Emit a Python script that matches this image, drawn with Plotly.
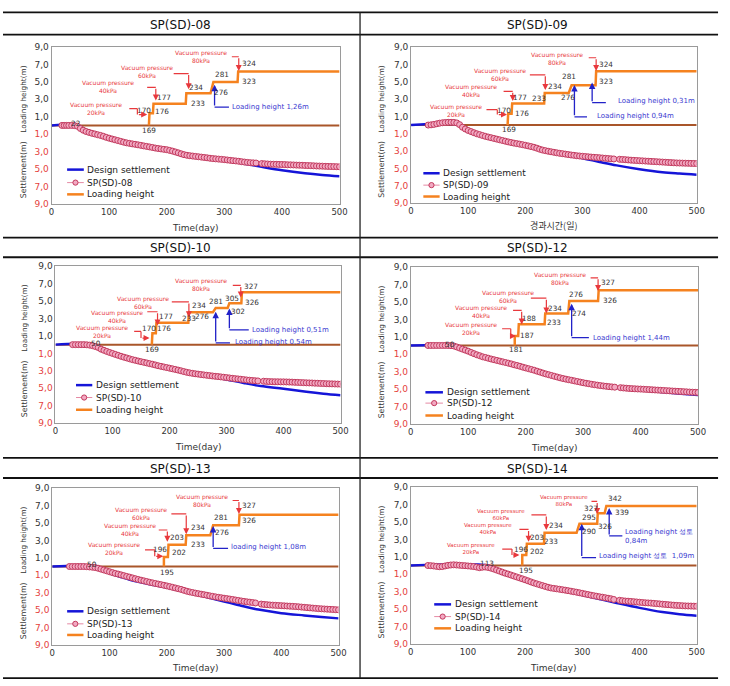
import plotly.graph_objects as go

W, H = 730, 686
FONT = "DejaVu Sans"

# ---------------- data ----------------
DAYS = list(range(30, 505, 5))  # measurement days (every 5 days)

SP08_DAYS = [18, 22, 26] + DAYS
SP08_SETTLE = [0.0, 0.0, 0.0,
    0.0, 0.0, -0.02, -0.1, -0.35, -0.55, -0.7, -0.8, -0.9, -0.98,
    -1.07, -1.15, -1.25, -1.37, -1.47, -1.56, -1.65, -1.74, -1.83, -1.92,
    -2.0, -2.06, -2.12, -2.17, -2.23, -2.29, -2.35, -2.41, -2.47, -2.53,
    -2.6, -2.65, -2.7, -2.75, -2.79, -2.87, -2.95, -3.05, -3.15, -3.26,
    -3.36, -3.43, -3.48, -3.52, -3.56, -3.6, -3.64, -3.68, -3.72, -3.77,
    -3.81, -3.84, -3.87, -3.9, -3.93, -3.97, -4.01, -4.05, -4.08, -4.12,
    -4.17, -4.21, -4.25, -4.28, -4.3, -4.32, None, -4.38, -4.41, -4.43,
    -4.45, -4.46, -4.47, -4.48, -4.49, -4.5, -4.52, -4.53, -4.54, -4.56,
    -4.57, -4.58, -4.6, -4.61, -4.62, -4.64, -4.66, -4.67, -4.68, -4.7,
    -4.71, -4.72, -4.73, -4.74, -4.75]
SP08_DESIGN_DAYS = [0, 45, 60, 80, 100, 130, 160, 200, 230, 260, 300, 330, 360, 400, 440, 470, 500]
SP08_DESIGN = [0, 0, -0.55, -1.0, -1.45, -1.95, -2.35, -2.8, -3.3, -3.65, -4.0, -4.35, -4.7, -5.15, -5.5, -5.7, -5.85]
SP08_LOAD_DAYS = [169, 169, 170, 170, 176, 177, 233, 234, 276, 281, 323, 324, 500]
SP08_LOAD = [0, 1.1, 1.1, 1.4, 1.4, 2.5, 2.5, 3.7, 3.7, 5.0, 5.0, 6.2, 6.2]

SP09_DAYS = DAYS
SP09_SETTLE = [
    0.0, 0.03, 0.08, 0.15, 0.22, 0.27, 0.3, 0.32, 0.32, 0.31,
    0.25, 0.05, -0.25, -0.45, -0.62, -0.75, -0.88, -1.0, -1.1, -1.2,
    -1.3, -1.38, -1.46, -1.54, -1.62, -1.7, -1.78, -1.86, -1.94, -2.01,
    -2.08, -2.14, -2.2, -2.26, -2.33, -2.4, -2.48, -2.56, -2.66, -2.78,
    -2.88, -2.95, -3.02, -3.08, -3.14, -3.2, -3.26, -3.3, -3.35, -3.4,
    -3.45, -3.49, -3.54, -3.57, -3.6, -3.63, -3.66, -3.69, -3.72, -3.74,
    -3.77, -3.8, -3.83, -3.86, -3.89, -3.91, None, -3.95, -3.97, -3.99,
    -4.02, -4.05, -4.07, -4.09, -4.11, -4.13, -4.15, -4.17, -4.19, -4.21,
    -4.23, -4.25, -4.27, -4.29, -4.31, -4.33, -4.35, -4.37, -4.38, -4.39,
    -4.4, -4.41, -4.42, -4.43, -4.44]
SP09_DESIGN_DAYS = [0, 85, 100, 130, 160, 200, 230, 260, 300, 330, 360, 400, 440, 470, 500]
SP09_DESIGN = [0, 0, -0.6, -1.3, -1.85, -2.4, -2.9, -3.35, -3.83, -4.25, -4.65, -5.1, -5.45, -5.6, -5.72]
SP09_LOAD_DAYS = [169, 169, 170, 170, 176, 177, 233, 234, 276, 281, 323, 324, 500]
SP09_LOAD = [0, 1.1, 1.1, 1.3, 1.3, 2.5, 2.5, 3.7, 3.7, 4.6, 4.6, 6.2, 6.2]

SP10_DAYS = DAYS
SP10_SETTLE = [
    0.0, 0.0, 0.0, 0.0, 0.0, -0.02, -0.06, -0.12, -0.22, -0.33,
    -0.52, -0.65, -0.78, -0.9, -1.01, -1.12, -1.23, -1.34, -1.44, -1.53,
    -1.63, -1.72, -1.8, -1.88, -1.96, -2.03, -2.1, -2.18, -2.25, -2.33,
    -2.42, -2.49, -2.56, -2.63, -2.7, -2.77, -2.84, -2.92, -3.0, -3.09,
    -3.17, -3.23, -3.29, -3.34, -3.38, -3.43, -3.47, -3.51, -3.55, -3.59,
    -3.63, -3.66, -3.7, -3.74, -3.78, -3.82, -3.86, -3.9, -3.93, -3.97,
    -4.01, -4.05, -4.08, -4.11, -4.14, -4.16, None, -4.2, -4.22, -4.24,
    -4.25, -4.26, -4.26, -4.27, -4.27, -4.28, -4.29, -4.3, -4.32, -4.33,
    -4.35, -4.36, -4.38, -4.39, -4.4, -4.42, -4.43, -4.45, -4.46, -4.48,
    -4.49, -4.5, -4.51, -4.52, -4.53]
SP10_DESIGN_DAYS = [0, 60, 80, 100, 130, 160, 200, 230, 260, 300, 330, 360, 400, 440, 470, 500]
SP10_DESIGN = [0, 0, -0.5, -1.0, -1.63, -2.15, -2.74, -3.15, -3.5, -4.0, -4.4, -4.75, -5.06, -5.4, -5.62, -5.8]
SP10_LOAD_DAYS = [169, 169, 170, 170, 176, 177, 233, 234, 276, 281, 302, 305, 326, 327, 500]
SP10_LOAD = [0, 1.0, 1.0, 1.3, 1.3, 2.5, 2.5, 3.7, 3.7, 4.2, 4.2, 4.75, 4.75, 6.0, 6.0]

SP12_DAYS = DAYS
SP12_SETTLE = [
    0.0, 0.0, 0.0, 0.0, 0.0, 0.0, 0.0, 0.0, -0.02, -0.06,
    -0.17, -0.3, -0.42, -0.54, -0.66, -0.8, -0.94, -1.07, -1.18, -1.3,
    -1.38, -1.47, -1.56, -1.64, -1.72, -1.8, -1.88, -1.96, -2.04, -2.12,
    -2.22, -2.3, -2.39, -2.49, -2.58, -2.67, -2.76, -2.85, -2.96, -3.06,
    -3.17, -3.27, -3.36, -3.45, -3.54, -3.63, -3.72, -3.8, -3.87, -3.94,
    -4.0, -4.07, -4.14, -4.21, -4.28, -4.34, -4.4, -4.46, -4.51, -4.56,
    -4.61, -4.65, -4.69, -4.73, -4.76, -4.79, None, -4.85, -4.88, -4.91,
    -4.94, -4.96, -4.98, -5.0, -5.01, -5.03, -5.05, -5.07, -5.09, -5.11,
    -5.13, -5.15, -5.17, -5.19, -5.21, -5.23, -5.25, -5.27, -5.29, -5.31,
    -5.33, -5.35, -5.37, -5.38, -5.4]
SP12_DESIGN_DAYS = [0, 70, 80, 100, 130, 160, 200, 230, 260, 300, 330, 360, 400, 440, 470, 500]
SP12_DESIGN = [0, 0, -0.2, -0.62, -1.4, -1.98, -2.65, -3.15, -3.78, -4.35, -4.65, -4.88, -5.13, -5.38, -5.55, -5.7]
SP12_LOAD_DAYS = [181, 181, 187, 188, 233, 234, 274, 276, 326, 327, 500]
SP12_LOAD = [0, 1.1, 1.1, 2.45, 2.45, 3.68, 3.68, 5.12, 5.12, 6.35, 6.35]

SP13_DAYS = DAYS
SP13_SETTLE = [
    0.0, 0.0, 0.0, 0.0, 0.0, 0.0, -0.02, -0.05, -0.08, -0.12,
    -0.2, -0.3, -0.4, -0.5, -0.6, -0.7, -0.8, -0.87, -0.96, -1.05,
    -1.14, -1.22, -1.31, -1.4, -1.49, -1.57, -1.65, -1.73, -1.81, -1.88,
    -1.95, -2.02, -2.09, -2.16, -2.23, -2.31, -2.39, -2.47, -2.55, -2.63,
    -2.74, -2.84, -2.92, -2.99, -3.06, -3.12, -3.18, -3.24, -3.3, -3.37,
    -3.43, -3.49, -3.54, -3.59, -3.64, -3.69, -3.74, -3.79, -3.85, -3.9,
    -3.96, -4.01, -4.06, -4.1, -4.14, -4.19, None, -4.32, -4.36, -4.39,
    -4.42, -4.44, -4.46, -4.48, -4.5, -4.52, -4.54, -4.56, -4.58, -4.6,
    -4.63, -4.66, -4.69, -4.72, -4.75, -4.78, -4.81, -4.84, -4.86, -4.88,
    -4.9, -4.92, -4.94, -4.96, -4.98]
SP13_DESIGN_DAYS = [0, 70, 85, 100, 120, 150, 200, 250, 300, 330, 360, 400, 440, 470, 500]
SP13_DESIGN = [0, 0, -0.35, -0.75, -1.2, -1.77, -2.42, -3.2, -4.04, -4.5, -4.95, -5.36, -5.62, -5.8, -5.96]
SP13_LOAD_DAYS = [195, 195, 202, 203, 233, 234, 276, 281, 326, 327, 500]
SP13_LOAD = [0, 1.1, 1.1, 2.5, 2.5, 3.6, 3.6, 4.75, 4.75, 5.95, 5.95]

SP14_DAYS = DAYS
SP14_SETTLE = [
    0.0, -0.02, -0.05, -0.1, -0.14, -0.12, -0.05, 0.02, 0.06, 0.08,
    0.06, 0.03, 0.0, -0.02, -0.05, -0.08, -0.12, -0.18, -0.25, -0.2,
    -0.17, -0.22, -0.3, -0.4, -0.52, -0.64, -0.76, -0.88, -0.98, -1.09,
    -1.2, -1.31, -1.42, -1.53, -1.64, -1.76, -1.88, -2.0, -2.1, -2.2,
    -2.3, -2.4, -2.5, -2.58, -2.63, -2.68, -2.73, -2.78, -2.83, -2.89,
    -2.95, -3.01, -3.07, -3.13, -3.2, -3.27, -3.34, -3.41, -3.47, -3.53,
    -3.59, -3.64, -3.7, -3.76, -3.82, -3.9, None, -4.0, -4.04, -4.08,
    -4.1, -4.13, -4.16, -4.19, -4.22, -4.25, -4.28, -4.3, -4.32, -4.35,
    -4.38, -4.41, -4.44, -4.47, -4.5, -4.53, -4.56, -4.58, -4.6, -4.62,
    -4.64, -4.65, -4.66, -4.67, -4.68]
SP14_DESIGN_DAYS = [0, 135, 150, 175, 200, 230, 260, 300, 330, 360, 400, 440, 470, 500]
SP14_DESIGN = [0, 0, -0.45, -1.05, -1.62, -2.3, -2.78, -3.4, -3.85, -4.3, -4.87, -5.35, -5.6, -5.77]
SP14_LOAD_DAYS = [195, 195, 202, 203, 233, 234, 290, 295, 326, 327, 339, 342, 500]
SP14_LOAD = [0, 1.2, 1.2, 2.5, 2.5, 3.75, 3.75, 4.8, 4.8, 6.0, 6.0, 6.85, 6.85]

BASE_DAYS = [0, 500]
BASE = [0, 0]

NAMES = ["SP(SD)-08", "SP(SD)-09", "SP(SD)-10", "SP(SD)-12", "SP(SD)-13", "SP(SD)-14"]
X_TITLES = ["Time(day)", "경과시간(일)", "Time(day)", "Time(day)", "Time(day)", "Time(day)"]
X_TICKS = [0, 100, 200, 300, 400, 500]
Y_TICKS = [9, 7, 5, 3, 1, -1, -3, -5, -7, -9]
Y_TICK_TEXT = ["9,0", "7,0", "5,0", "3,0", "1,0", "1,0", "3,0", "5,0", "7,0", "9,0"]

# ---------------- annotation specs (data coordinates) ----------------
VAC = [
    [("20kPa", 77, 1.96), ("40kPa", 98, 4.42), ("60kPa", 166, 6.23), ("80kPa", 260, 7.96)],
    [("20kPa", 78, 1.7), ("40kPa", 105, 4.0), ("60kPa", 156, 5.83), ("80kPa", 255, 7.69)],
    [("20kPa", 82, 1.45), ("40kPa", 108, 3.2), ("60kPa", 153, 4.8), ("80kPa", 256, 6.87)],
    [("20kPa", 105, 1.94), ("40kPa", 123, 3.89), ("60kPa", 170, 5.58), ("80kPa", 259, 7.7)],
    [("20kPa", 108, 2.04), ("40kPa", 135, 4.23), ("60kPa", 155, 6.08), ("80kPa", 261, 7.62)],
    [("20kPa", 106, 2.0), ("40kPa", 135, 4.2), ("60kPa", 158, 5.85), ("80kPa", 268, 7.47)],
]
VAC_SIZE = [6, 6, 6, 6, 6, 5.5]
RED_ARROWS = [
    [[(135, 1.92), (149, 1.92), (149, 1.25), (166, 1.25)], [(166, 4.38), (181, 4.38), (181, 2.87)],
     [(212, 5.96), (238, 5.96), (238, 4.15)], [(313, 7.89), (325, 7.89), (325, 6.26)]],
    [[(132, 1.78), (151, 1.78), (151, 1.21), (168, 1.21)], [(162, 3.9), (178, 3.9), (178, 2.77)],
     [(208, 5.8), (235, 5.8), (235, 4.05)], [(311, 7.77), (324, 7.77), (324, 6.25)]],
    [[(138, 1.51), (150, 1.51), (150, 0.75), (165, 0.75)], [(161, 3.77), (179, 3.77), (179, 2.19)],
     [(204, 4.9), (234, 4.9), (234, 3.13)], [(311, 6.79), (325, 6.79), (325, 5.4)]],
    [[(159, 1.92), (174, 1.92), (174, 1.09), (183, 1.09)], [(178, 4.04), (193, 4.04), (193, 2.42)],
     [(209, 5.43), (236, 5.43), (236, 3.66)], [(313, 7.77), (326, 7.77), (326, 6.26)]],
    [[(162, 1.92), (179, 1.92), (179, 1.17), (194, 1.17)], [(186, 4.19), (201, 4.19), (201, 2.83)],
     [(208, 6.04), (234, 6.04), (234, 3.7)], [(315, 7.58), (326, 7.58), (326, 6.04)]],
    [[(160, 1.89), (177, 1.89), (177, 1.21), (190, 1.21)], [(190, 4.15), (206, 4.15), (206, 2.72)],
     [(211, 5.81), (237, 5.81), (237, 4.08)], [(316, 7.36), (326, 7.36), (326, 5.92)]],
]
NUMS = [
    [("170", 161, 1.74), ("177", 195, 3.25), ("176", 191, 1.62), ("169", 170, -0.64), ("234", 251, 4.38),
     ("233", 254, 2.57), ("281", 296, 5.81), ("276", 295, 3.81), ("324", 342, 7.09), ("323", 343, 5.06), ("22", 41, 0.23)],
    [("170", 162, 1.7), ("177", 191, 3.14), ("176", 194, 1.33), ("169", 172, -0.49), ("234", 252, 4.43),
     ("233", 224, 3.03), ("281", 277, 5.57), ("276", 274, 3.14), ("324", 341, 7.0), ("323", 341, 5.04)],
    [("170", 164, 1.89), ("176", 191, 1.81), ("177", 194, 3.25), ("169", 170, -0.53), ("234", 251, 4.45),
     ("233", 235, 2.94), ("276", 257, 3.17), ("281", 282, 4.91), ("305", 309, 5.28), ("302", 321, 3.77),
     ("327", 343, 6.72), ("326", 344, 4.83), ("50", 71, 0.12)],
    [("188", 205, 3.09), ("187", 202, 1.17), ("181", 183, -0.49), ("234", 251, 4.23), ("233", 249, 2.6),
     ("276", 287, 5.81), ("274", 293, 3.66), ("327", 343, 7.21), ("326", 347, 5.17), ("50", 69, 0.15)],
    [("196", 188, 1.92), ("203", 218, 3.32), ("202", 221, 1.62), ("195", 201, -0.72), ("234", 255, 4.45),
     ("233", 255, 2.57), ("281", 295, 5.58), ("276", 296, 3.89), ("327", 343, 6.98), ("326", 343, 5.28), ("50", 70, 0.19)],
    [("196", 192, 1.89), ("203", 220, 3.21), ("202", 220, 1.62), ("195", 201, -0.57), ("234", 254, 4.6),
     ("233", 246, 2.72), ("295", 312, 5.55), ("290", 312, 3.85), ("327", 316, 6.53), ("326", 339, 4.45),
     ("342", 358, 7.74), ("339", 369, 6.11), ("113", 134, 0.19)],
]
BLUE_TEXT = [
    [("Loading height 1,26m", 309, 2.11)],
    [("Loading height 0,94m", 322, 1.1), ("Loading height 0,31m", 359, 2.73)],
    [("Loading height 0,51m", 341, 1.7), ("Loading height 0,54m", 311, 0.3)],
    [("Loading height 1,44m", 313, 0.9)],
    [("loading height 1,08m", 308, 2.19)],
    [("Loading height 성토<br>0,84m", 372, 3.36), ("Loading height 성토  1,09m", 326, 1.06)],
]
BLUE_ARROWS = [
    [[(308, 2.11), (283, 2.11), (283, 4.68)]],
    [[(308, 0.95), (286, 0.95), (286, 4.62)], [(341, 2.58), (317, 2.58), (317, 4.92)]],
    [[(339, 1.7), (305, 1.7), (305, 4.15)], [(306, 0.19), (281, 0.19), (281, 3.77)]],
    [[(310, 0.9), (280, 0.9), (280, 4.8)]],
    [[(307, 2.08), (281, 2.08), (281, 4.64)]],
    [[(370, 3.4), (347, 3.4), (347, 6.6)], [(324, 0.91), (299, 0.91), (299, 4.79)]],
]

# ---------------- layout geometry (pixels) ----------------
BOXES = [(49.3, 42.7, 341.7, 201.7), (414.3, 42.7, 704.3, 201.0), (53.3, 265.0, 342.7, 424.3),
         (414.0, 266.0, 705.7, 425.0), (50.0, 490.3, 340.7, 649.3), (414.0, 489.3, 704.3, 648.3)]
TITLE_POS = [(180, 20), (543, 20), (180, 247), (543, 247), (180, 471), (543, 471)]
XT_Y = [226, 224, 449, 450, 673, 673]
YT_X = [20.7, 384.3, 21.5, 384.3, 20.7, 384.3]
LEG = [(0.054, 0.112, 0.116, [0.218, 0.135, 0.06]),
       (0.043, 0.100, 0.104, [0.191, 0.115, 0.042]),
       (0.072, 0.129, 0.135, [0.242, 0.163, 0.085]),
       (0.051, 0.112, 0.118, [0.201, 0.132, 0.053]),
       (0.052, 0.109, 0.115, [0.214, 0.134, 0.063]),
       (0.082, 0.141, 0.147, [0.252, 0.174, 0.099])]

SERIES = [
    (SP08_DAYS, SP08_SETTLE, SP08_DESIGN_DAYS, SP08_DESIGN, SP08_LOAD_DAYS, SP08_LOAD),
    (SP09_DAYS, SP09_SETTLE, SP09_DESIGN_DAYS, SP09_DESIGN, SP09_LOAD_DAYS, SP09_LOAD),
    (SP10_DAYS, SP10_SETTLE, SP10_DESIGN_DAYS, SP10_DESIGN, SP10_LOAD_DAYS, SP10_LOAD),
    (SP12_DAYS, SP12_SETTLE, SP12_DESIGN_DAYS, SP12_DESIGN, SP12_LOAD_DAYS, SP12_LOAD),
    (SP13_DAYS, SP13_SETTLE, SP13_DESIGN_DAYS, SP13_DESIGN, SP13_LOAD_DAYS, SP13_LOAD),
    (SP14_DAYS, SP14_SETTLE, SP14_DESIGN_DAYS, SP14_DESIGN, SP14_LOAD_DAYS, SP14_LOAD),
]

C_ORANGE = "#f5821f"
C_BLUE = "#1515d8"
C_BROWN = "#a9562a"
C_MFILL = "#f2a9c2"
C_MEDGE = "#c23a5e"
C_MLINE = "#e58aa4"
C_RED = "#e8383c"
C_BLUE_TXT = "#3a3ad0"
C_NUM = "#333333"

RED_TICK = '<span style="color:#e5413c">%s</span>'


def px(x):
    return x / W


def py(y):
    return 1 - y / H


fig = go.Figure()
shapes = []
annotations = []

for i in range(6):
    sfx = "" if i == 0 else str(i + 1)
    xr, yr = "x" + sfx, "y" + sfx
    x0, y0, x1, y1 = BOXES[i]
    mdays, msettle, ddays, dval, ldays, lval = SERIES[i]

    fig.add_trace(go.Scatter(x=BASE_DAYS, y=BASE, mode="lines", line=dict(color=C_BROWN, width=2),
                             xaxis=xr, yaxis=yr, showlegend=False, hoverinfo="skip"))
    fig.add_trace(go.Scatter(x=ldays, y=lval, mode="lines", line=dict(color=C_ORANGE, width=2.5),
                             xaxis=xr, yaxis=yr, showlegend=False, name="Loading height"))
    fig.add_trace(go.Scatter(x=ddays, y=dval, mode="lines", line=dict(color=C_BLUE, width=2.5, shape="spline"),
                             xaxis=xr, yaxis=yr, showlegend=False, name="Design settlement"))
    fig.add_trace(go.Scatter(x=mdays, y=msettle, mode="lines+markers",
                             line=dict(color=C_MLINE, width=1),
                             marker=dict(symbol="circle", size=6, color=C_MFILL,
                                         line=dict(color=C_MEDGE, width=1)),
                             xaxis=xr, yaxis=yr, showlegend=False, name=NAMES[i]))

    ticktext = [t if v > 0 else RED_TICK % t for t, v in zip(Y_TICK_TEXT, Y_TICKS)]
    fig.layout["xaxis" + sfx] = dict(
        domain=[px(x0), px(x1)], range=[0, 500], anchor=yr, tickvals=X_TICKS, ticks="",
        showline=True, mirror=True, linecolor="#9a9a9a", linewidth=1, showgrid=False, zeroline=False,
        tickfont=dict(family=FONT, size=8.5, color="#333"), fixedrange=True)
    fig.layout["yaxis" + sfx] = dict(
        domain=[py(y1), py(y0)], range=[-9, 9], anchor=xr, tickvals=Y_TICKS, ticktext=ticktext,
        ticks="", showline=True, mirror=True, linecolor="#9a9a9a", linewidth=1, showgrid=False,
        zeroline=False, tickfont=dict(family=FONT, size=9, color="#333"), fixedrange=True)

    # panel title
    tx, ty = TITLE_POS[i]
    annotations.append(dict(text=NAMES[i], x=px(tx), y=py(ty), xref="paper", yref="paper",
                            showarrow=False, font=dict(family=FONT, size=12, color="#111"),
                            xanchor="center", yanchor="middle"))
    # x title
    xfont = "Noto Sans CJK KR" if i == 1 else FONT
    annotations.append(dict(text=X_TITLES[i], x=px((x0 + x1) / 2), y=py(XT_Y[i]), xref="paper", yref="paper",
                            showarrow=False, font=dict(family=xfont, size=9, color="#333"),
                            xanchor="center", yanchor="middle"))
    # y titles
    annotations.append(dict(text="Loading height(m)", x=px(YT_X[i]), y=3.0, xref="paper", yref=yr,
                            showarrow=False, textangle=-90, font=dict(family=FONT, size=7.3, color="#333"),
                            xanchor="center", yanchor="middle"))
    annotations.append(dict(text="Settlement(m)", x=px(YT_X[i]), y=-5.1, xref="paper", yref=yr,
                            showarrow=False, textangle=-90, font=dict(family=FONT, size=7.8, color="#333"),
                            xanchor="center", yanchor="middle"))

    # vacuum pressure labels
    for lab, vx, vy in VAC[i]:
        annotations.append(dict(text="Vacuum pressure<br>" + lab, x=vx, y=vy, xref=xr, yref=yr,
                                showarrow=False, font=dict(family=FONT, size=VAC_SIZE[i], color=C_RED),
                                align="center", xanchor="center", yanchor="middle"))
    # bent arrows
    for paths, col, wid in ((RED_ARROWS[i], C_RED, 1.2), (BLUE_ARROWS[i], "#2222c8", 1.3)):
        for path in paths:
            for (ax_, ay_), (bx, by) in zip(path[:-2], path[1:-1]):
                shapes.append(dict(type="line", xref=xr, yref=yr, x0=ax_, y0=ay_, x1=bx, y1=by,
                                   line=dict(color=col, width=wid)))
            (ax_, ay_), (bx, by) = path[-2], path[-1]
            annotations.append(dict(text="", x=bx, y=by, ax=ax_, ay=ay_, xref=xr, yref=yr,
                                    axref=xr, ayref=yr, showarrow=True, arrowhead=2, arrowsize=1,
                                    arrowwidth=wid, arrowcolor=col, standoff=0, startstandoff=0))
    # number labels
    for lab, nx, ny in NUMS[i]:
        annotations.append(dict(text=lab, x=nx, y=ny, xref=xr, yref=yr, showarrow=False,
                                font=dict(family=FONT, size=7.3, color=C_NUM),
                                xanchor="center", yanchor="middle"))
    # blue loading-height notes
    for lab, bx, by in BLUE_TEXT[i]:
        annotations.append(dict(text=lab, x=bx, y=by, xref=xr, yref=yr, showarrow=False,
                                font=dict(family=FONT, size=7, color=C_BLUE_TXT),
                                align="left", xanchor="left", yanchor="middle"))

    # manual legend
    lx0, lx1, ltx, rows = LEG[i]
    xd, yd = xr + " domain", yr + " domain"
    shapes.append(dict(type="line", xref=xd, yref=yd, x0=lx0, x1=lx1, y0=rows[0], y1=rows[0],
                       line=dict(color=C_BLUE, width=2.5)))
    shapes.append(dict(type="line", xref=xd, yref=yd, x0=lx0, x1=lx1, y0=rows[1], y1=rows[1],
                       line=dict(color=C_MLINE, width=1)))
    shapes.append(dict(type="circle", xref=xd, yref=yd, xsizemode="pixel", ysizemode="pixel",
                       xanchor=(lx0 + lx1) / 2, yanchor=rows[1], x0=-2.6, x1=2.6, y0=-2.6, y1=2.6,
                       fillcolor=C_MFILL, line=dict(color=C_MEDGE, width=1)))
    shapes.append(dict(type="line", xref=xd, yref=yd, x0=lx0, x1=lx1, y0=rows[2], y1=rows[2],
                       line=dict(color=C_ORANGE, width=2.5)))
    for lab, ry in zip(["Design settlement", NAMES[i], "Loading height"], rows):
        annotations.append(dict(text=lab, x=ltx, y=ry, xref=xd, yref=yd, showarrow=False,
                                font=dict(family=FONT, size=9, color="#222"),
                                xanchor="left", yanchor="middle"))

# frame lines of the table layout
for yy in [7.5, 30, 236, 256, 459.5, 480, 683]:
    shapes.append(dict(type="line", xref="paper", yref="paper", x0=0, x1=px(726), y0=py(yy), y1=py(yy),
                       line=dict(color="#111", width=1.8)))
shapes.append(dict(type="line", xref="paper", yref="paper", x0=px(362.5), x1=px(362.5), y0=py(7.5), y1=py(683),
                   line=dict(color="#222", width=1.3)))

fig.update_layout(width=W, height=H, margin=dict(l=0, r=0, t=0, b=0),
                  paper_bgcolor="white", plot_bgcolor="white", showlegend=False,
                  shapes=shapes, annotations=annotations,
                  font=dict(family=FONT, size=9, color="#333"))

fig.write_html("out.html")
